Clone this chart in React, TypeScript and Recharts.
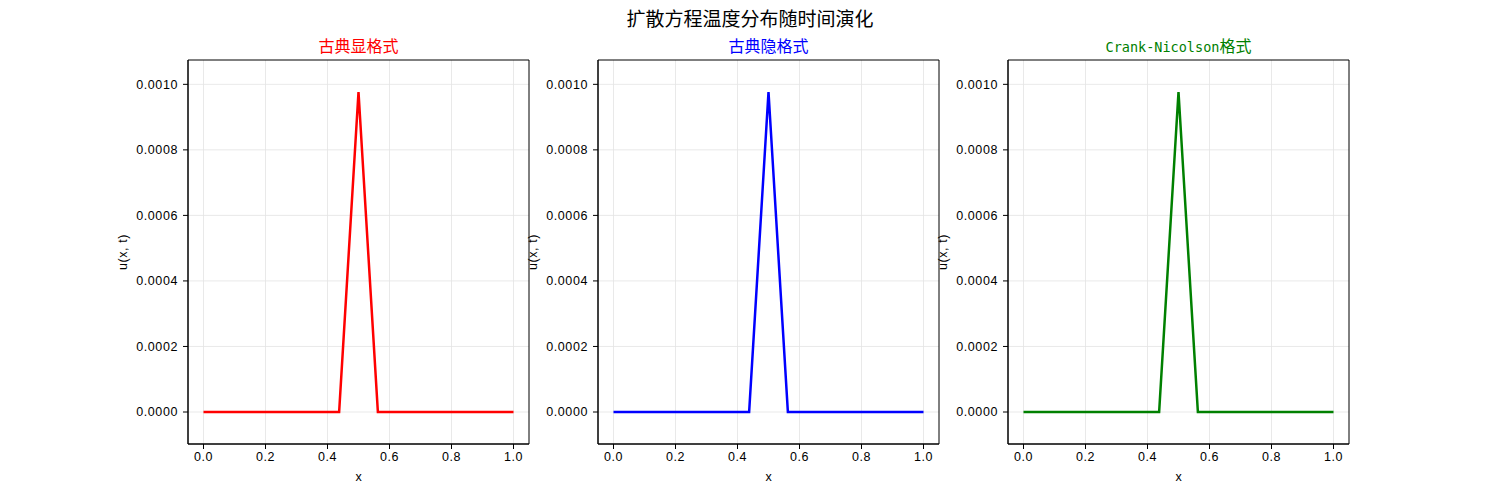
import React from 'react';
import { LineChart, Line, XAxis, YAxis, CartesianGrid, ReferenceArea } from 'recharts';

const xValues = [0, 0.0625, 0.125, 0.1875, 0.25, 0.3125, 0.375, 0.4375, 0.5, 0.5625, 0.625, 0.6875, 0.75, 0.8125, 0.875, 0.9375, 1.0];
const explicitU = [0, 0, 0, 0, 0, 0, 0, 0, 0.0009766, 0, 0, 0, 0, 0, 0, 0, 0];
const implicitU = [0, 0, 0, 0, 0, 0, 0, 0, 0.0009766, 0, 0, 0, 0, 0, 0, 0, 0];
const crankU = [0, 0, 0, 0, 0, 0, 0, 0, 0.0009766, 0, 0, 0, 0, 0, 0, 0, 0];

const xTicks = [0, 0.2, 0.4, 0.6, 0.8, 1.0];
const yTicks = [0, 0.0002, 0.0004, 0.0006, 0.0008, 0.001];
const xDomain = [-0.05, 1.05];
const yDomain = [-0.00009766, 0.00107426];

const mainTitle = '扩散方程温度分布随时间演化';
const panelTitleLatin = ['', '', 'Crank-Nicolson'];
const panelTitleCjk = ['古典显格式', '古典隐格式', '格式'];
const panelColors = ['#ff0000', '#0000ff', '#008000'];
const panelSeries = [explicitU, implicitU, crankU];

const FONT = "'Liberation Sans', 'Noto Sans CJK SC', sans-serif";
const CJK_FONT = "'Noto Sans CJK SC', sans-serif";
const YAXIS_W = 80;
const PLOT_W = 341;
const PLOT_TOP = 60;
const PLOT_H = 384;
const CHART_H = 500;
const RIGHT_M = 2;
const panelLefts = [188, 598, 1008];

function Panel({ idx }: { idx: number }) {
  const data = xValues.map((x, i) => ({ x, u: panelSeries[idx][i] }));
  const left = panelLefts[idx] - YAXIS_W;
  const tickStyle = { fontSize: 12.5, fill: '#000', fontFamily: FONT, letterSpacing: 0.6 };
  return (
    <div style={{ position: 'absolute', left, top: 0, width: YAXIS_W + PLOT_W + RIGHT_M, height: CHART_H }}>
      <div
        style={{
          position: 'absolute',
          left: YAXIS_W,
          width: PLOT_W,
          top: 34,
          textAlign: 'center',
          fontFamily: CJK_FONT,
          fontSize: 16,
          color: panelColors[idx],
          lineHeight: '22px',
        }}
      >
        {panelTitleLatin[idx] ? (
          <span style={{ fontFamily: "'DejaVu Sans Mono', monospace", fontSize: 13.5 }}>{panelTitleLatin[idx]}</span>
        ) : null}
        {panelTitleCjk[idx]}
      </div>
      <LineChart
        width={YAXIS_W + PLOT_W + RIGHT_M}
        height={CHART_H}
        data={data}
        margin={{ top: PLOT_TOP, right: RIGHT_M, bottom: CHART_H - PLOT_TOP - PLOT_H - 40, left: 0 }}
      >
        <CartesianGrid stroke="#e3e3e3" strokeWidth={0.8} horizontalValues={yTicks} verticalValues={xTicks} />
        <XAxis
          dataKey="x"
          type="number"
          domain={xDomain}
          ticks={xTicks}
          allowDataOverflow
          height={40}
          tickSize={5}
          tickMargin={3}
          tick={tickStyle}
          tickFormatter={(v: number) => v.toFixed(1)}
          stroke="#000"
          tickLine={{ stroke: '#000' }}
          axisLine={{ stroke: '#000' }}
          label={(props: any) => {
            const vb = props.viewBox || {};
            return (
              <text x={vb.x + vb.width / 2} y={vb.y + 37} textAnchor="middle" fontSize={12.5} fontFamily={FONT} fill="#000">
                x
              </text>
            );
          }}
        />
        <YAxis
          type="number"
          domain={yDomain}
          ticks={yTicks}
          allowDataOverflow
          width={YAXIS_W}
          tickSize={5}
          tickMargin={5}
          tick={tickStyle}
          tickFormatter={(v: number) => v.toFixed(4)}
          tickLine={{ stroke: '#000' }}
          axisLine={{ stroke: '#000' }}
          label={(props: any) => {
            const vb = props.viewBox || {};
            const cx = vb.x + 15;
            const cy = vb.y + vb.height / 2;
            return (
              <text
                x={cx}
                y={cy}
                transform={`rotate(-90, ${cx}, ${cy})`}
                textAnchor="middle"
                dominantBaseline="central"
                fontSize={12.5}
                fontFamily={FONT}
                letterSpacing={0.6}
                fill="#000"
              >
                u(x, t)
              </text>
            );
          }}
        />
        <Line
          type="linear"
          dataKey="u"
          stroke={panelColors[idx]}
          strokeWidth={2.5}
          dot={false}
          isAnimationActive={false}
        />
        <ReferenceArea
          x1={xDomain[0]}
          x2={xDomain[1]}
          y1={yDomain[0]}
          y2={yDomain[1]}
          fill="none"
          fillOpacity={0}
          stroke="#000"
          strokeWidth={1}
          ifOverflow="visible"
        />
      </LineChart>
    </div>
  );
}

export default function App() {
  return (
    <div style={{ position: 'absolute', left: 0, top: 0, width: 1500, height: 500, background: '#fff', overflow: 'hidden' }}>
      <div
        style={{
          position: 'absolute',
          left: 0,
          width: 1500,
          top: 6,
          textAlign: 'center',
          fontFamily: CJK_FONT,
          fontSize: 19,
          color: '#000',
          lineHeight: '24px',
        }}
      >
        {mainTitle}
      </div>
      {[0, 1, 2].map((i) => (
        <Panel key={i} idx={i} />
      ))}
    </div>
  );
}
